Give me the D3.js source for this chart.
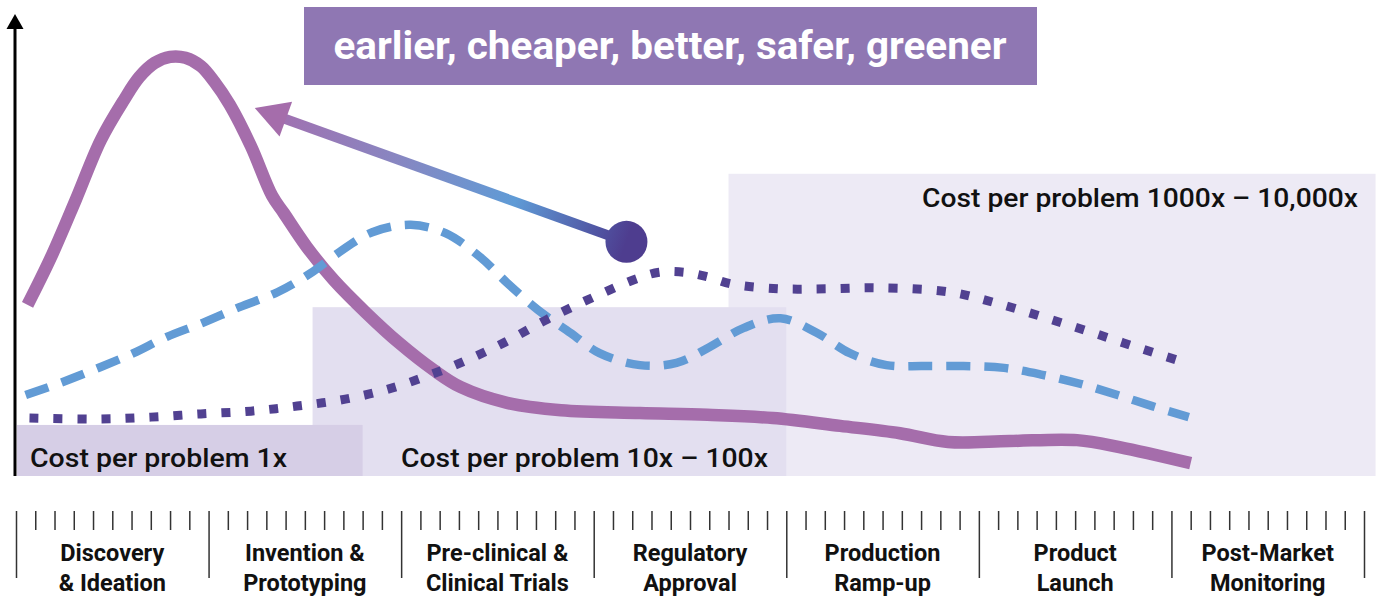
<!DOCTYPE html>
<html>
<head>
<meta charset="utf-8">
<script src="https://cdn.jsdelivr.net/npm/d3@7"></script>
<style>
    body { margin: 0; background: #ffffff; }
    svg { display: block; font-family: Roboto, "Noto Sans", sans-serif; }
</style>
</head>
<body>
<svg id="effort_chart" width="1383" height="598"></svg>
<script>
// stages along the x axis (one unit per stage)
var stages = [
    ["Discovery", "& Ideation"],
    ["Invention &", "Prototyping"],
    ["Pre-clinical &", "Clinical Trials"],
    ["Regulatory", "Approval"],
    ["Production", "Ramp-up"],
    ["Product", "Launch"],
    ["Post-Market", "Monitoring"]
]

// solid purple curve [stage, effort]
var solidCurve = [
    [0.06, 37.2], [0.18, 47.4], [0.31, 60.0], [0.44, 73.0], [0.56, 81.7], [0.64, 86.7],
    [0.72, 89.8], [0.80, 91.1], [0.88, 90.9], [0.96, 89.1], [1.03, 85.7], [1.11, 80.7],
    [1.22, 71.7], [1.33, 60.9], [1.39, 57.2], [1.51, 49.8], [1.65, 42.6], [1.82, 35.4],
    [1.99, 28.9], [2.17, 23.0], [2.31, 19.3], [2.55, 15.9], [2.83, 14.3], [3.24, 13.7],
    [3.59, 13.3], [3.93, 12.6], [4.28, 10.9], [4.59, 9.3], [4.84, 7.4], [5.16, 7.6],
    [5.51, 7.8], [5.73, 6.3], [6.10, 2.8]
]

// dashed blue curve
var dashedCurve = [
    [0.05, 17.6], [0.24, 20.4], [0.44, 23.7], [0.61, 26.7], [0.78, 30.2], [0.97, 33.3],
    [1.16, 36.7], [1.36, 40.0], [1.53, 44.1], [1.68, 48.7], [1.85, 53.0], [2.05, 54.6],
    [2.23, 52.8], [2.41, 47.6], [2.55, 42.0], [2.71, 36.1], [2.88, 31.1], [3.03, 26.7],
    [3.24, 24.1], [3.43, 24.6], [3.60, 28.0], [3.78, 32.2], [3.97, 34.3], [4.16, 31.1],
    [4.33, 26.7], [4.52, 24.1], [4.71, 23.9], [4.92, 23.9], [5.13, 23.5], [5.33, 22.0],
    [5.53, 20.0], [5.72, 17.6], [5.90, 15.2], [6.09, 12.8]
]

// dotted dark purple curve
var dottedCurve = [
    [0.07, 12.6], [0.44, 12.4], [0.70, 12.8], [0.96, 13.5], [1.22, 14.1], [1.46, 15.2],
    [1.71, 16.7], [1.95, 19.1], [2.19, 22.6], [2.32, 24.8], [2.54, 29.1], [2.76, 34.1],
    [2.99, 38.7], [3.23, 43.0], [3.34, 44.3], [3.47, 44.3], [3.59, 43.3], [3.72, 41.7],
    [3.97, 40.7], [4.21, 40.7], [4.47, 40.9], [4.85, 40.0], [5.09, 37.6], [5.33, 34.6],
    [5.58, 31.3], [5.82, 28.0], [6.06, 24.8]
]

// cost zones [x0, x1, top]
var costZones = [
    {label: "Cost per problem 1000x \u2013 10,000x", x0: 3.70, x1: 7.06, top: 65.7},
    {label: "Cost per problem 10x \u2013 100x", x0: 1.54, x1: 4.00, top: 36.7},
    {label: "Cost per problem 1x", x0: 0.005, x1: 1.80, top: 11.1}
]

var arrowFrom = [3.17, 50.9]
var arrowTo = [1.24, 80.0]

var titleText = "earlier, cheaper, better, safer, greener"

var svg, xScale, yScale

function build_chart() {
    svg = d3.select("#effort_chart");

    xScale = d3.scaleLinear().domain([0, 7]).range([16, 1364]);
    yScale = d3.scaleLinear().domain([0, 100]).range([476, 16]);

    var zoneColors = ["#edeaf5", "#e3dff0", "#d6cee6"]
    svg.selectAll("rect.zone")
        .data(costZones).enter()
        .append("rect").classed("zone", true)
        .attr("x", d => xScale(d.x0))
        .attr("y", d => yScale(d.top))
        .attr("width", d => xScale(d.x1) - xScale(d.x0))
        .attr("height", d => yScale(0) - yScale(d.top))
        .attr("fill", (d, i) => zoneColors[i]);

    // zone labels
    var zoneLabelPos = [
        {x: 1358, y: 207, anchor: "end", len: 436},
        {x: 401, y: 467, anchor: "start", len: 367},
        {x: 30, y: 467, anchor: "start", len: 257}
    ]
    svg.selectAll("text.zone_label")
        .data(costZones).enter()
        .append("text").classed("zone_label", true)
        .attr("x", (d, i) => zoneLabelPos[i].x)
        .attr("y", (d, i) => zoneLabelPos[i].y)
        .attr("text-anchor", (d, i) => zoneLabelPos[i].anchor)
        .attr("textLength", (d, i) => zoneLabelPos[i].len)
        .attr("lengthAdjust", "spacingAndGlyphs")
        .attr("font-size", 25)
        .attr("font-weight", 500)
        .attr("fill", "#111")
        .text(d => d.label);

    var line = d3.line()
        .x(d => xScale(d[0]))
        .y(d => yScale(d[1]))
        .curve(d3.curveCatmullRom.alpha(0.5));

    svg.append("path")
        .datum(solidCurve)
        .attr("fill", "none")
        .attr("stroke", "#a56dab")
        .attr("stroke-width", 12.5)
        .attr("d", line);

    svg.append("path")
        .datum(dashedCurve)
        .attr("fill", "none")
        .attr("stroke", "#629bd5")
        .attr("stroke-width", 8.5)
        .attr("stroke-dasharray", "24 14")
        .attr("d", line);

    svg.append("path")
        .datum(dottedCurve)
        .attr("fill", "none")
        .attr("stroke", "#514191")
        .attr("stroke-width", 9)
        .attr("stroke-dasharray", "9 15")
        .attr("d", line);

    // y axis with arrow head
    svg.append("line")
        .attr("x1", 15).attr("x2", 15)
        .attr("y1", yScale(0)).attr("y2", 26)
        .attr("stroke", "#000").attr("stroke-width", 3);
    svg.append("path")
        .attr("d", "M15,14 L23.5,29 L6.5,29 Z")
        .attr("fill", "#000");

    // gradient arrow
    var sx = xScale(arrowFrom[0]), sy = yScale(arrowFrom[1])
    var tx = xScale(arrowTo[0]), ty = yScale(arrowTo[1])
    var grad = svg.append("defs").append("linearGradient")
        .attr("id", "arrow_grad")
        .attr("gradientUnits", "userSpaceOnUse")
        .attr("x1", sx).attr("y1", sy).attr("x2", tx).attr("y2", ty);
    [[0, "#4e3d8f"], [0.08, "#5055a3"], [0.3, "#5f9bd6"], [0.62, "#8886c1"], [0.95, "#a270b0"], [1, "#a56dab"]]
        .forEach(s => grad.append("stop").attr("offset", s[0]).attr("stop-color", s[1]));

    var len = Math.hypot(tx - sx, ty - sy)
    var ux = (tx - sx) / len, uy = (ty - sy) / len
    var headLen = 33, headHalf = 18.5
    var bx = tx - ux * headLen, by = ty - uy * headLen

    svg.append("line")
        .attr("x1", sx).attr("y1", sy)
        .attr("x2", bx + ux * 2).attr("y2", by + uy * 2)
        .attr("stroke", "url(#arrow_grad)")
        .attr("stroke-width", 10);
    svg.append("path")
        .attr("d", "M" + tx + "," + ty +
            " L" + (bx - uy * headHalf) + "," + (by + ux * headHalf) +
            " L" + (bx + uy * headHalf) + "," + (by - ux * headHalf) + " Z")
        .attr("fill", "#a56dab");
    svg.append("circle")
        .attr("cx", sx).attr("cy", sy).attr("r", 21)
        .attr("fill", "url(#arrow_grad)");

    // title box
    svg.append("rect")
        .attr("x", 304).attr("y", 7)
        .attr("width", 733).attr("height", 78)
        .attr("fill", "#8f77b3");
    svg.append("text")
        .attr("x", 670).attr("y", 59)
        .attr("text-anchor", "middle")
        .attr("textLength", 673)
        .attr("lengthAdjust", "spacingAndGlyphs")
        .attr("font-size", 38)
        .attr("font-weight", 700)
        .attr("fill", "#fff")
        .text(titleText);

    // stage ticks
    var minorTicks = d3.range(0, 70).filter(i => i % 10 != 0).map(i => i / 10)
    var majorTicks = d3.range(0, 8)

    var minorAxis = svg.append("g")
        .attr("transform", "translate(0,511)")
        .call(d3.axisBottom(xScale).tickValues(minorTicks).tickSize(19).tickFormat(""));
    var majorAxis = svg.append("g")
        .attr("transform", "translate(0,511)")
        .call(d3.axisBottom(xScale).tickValues(majorTicks).tickSize(67).tickFormat(""));
    [minorAxis, majorAxis].forEach(function(ax) {
        ax.select(".domain").remove();
        ax.selectAll(".tick line").attr("stroke", "#333").attr("stroke-width", 1.5);
    });

    var labels = svg.selectAll("text.stage")
        .data(stages).enter()
        .append("text").classed("stage", true)
        .attr("text-anchor", "middle")
        .attr("font-size", 23.5)
        .attr("font-weight", 700)
        .attr("fill", "#111");
    labels.append("tspan")
        .attr("x", (d, i) => xScale(i + 0.5))
        .attr("y", 561)
        .text(d => d[0]);
    labels.append("tspan")
        .attr("x", (d, i) => xScale(i + 0.5))
        .attr("y", 591)
        .text(d => d[1]);
}

build_chart();
</script>
</body>
</html>
